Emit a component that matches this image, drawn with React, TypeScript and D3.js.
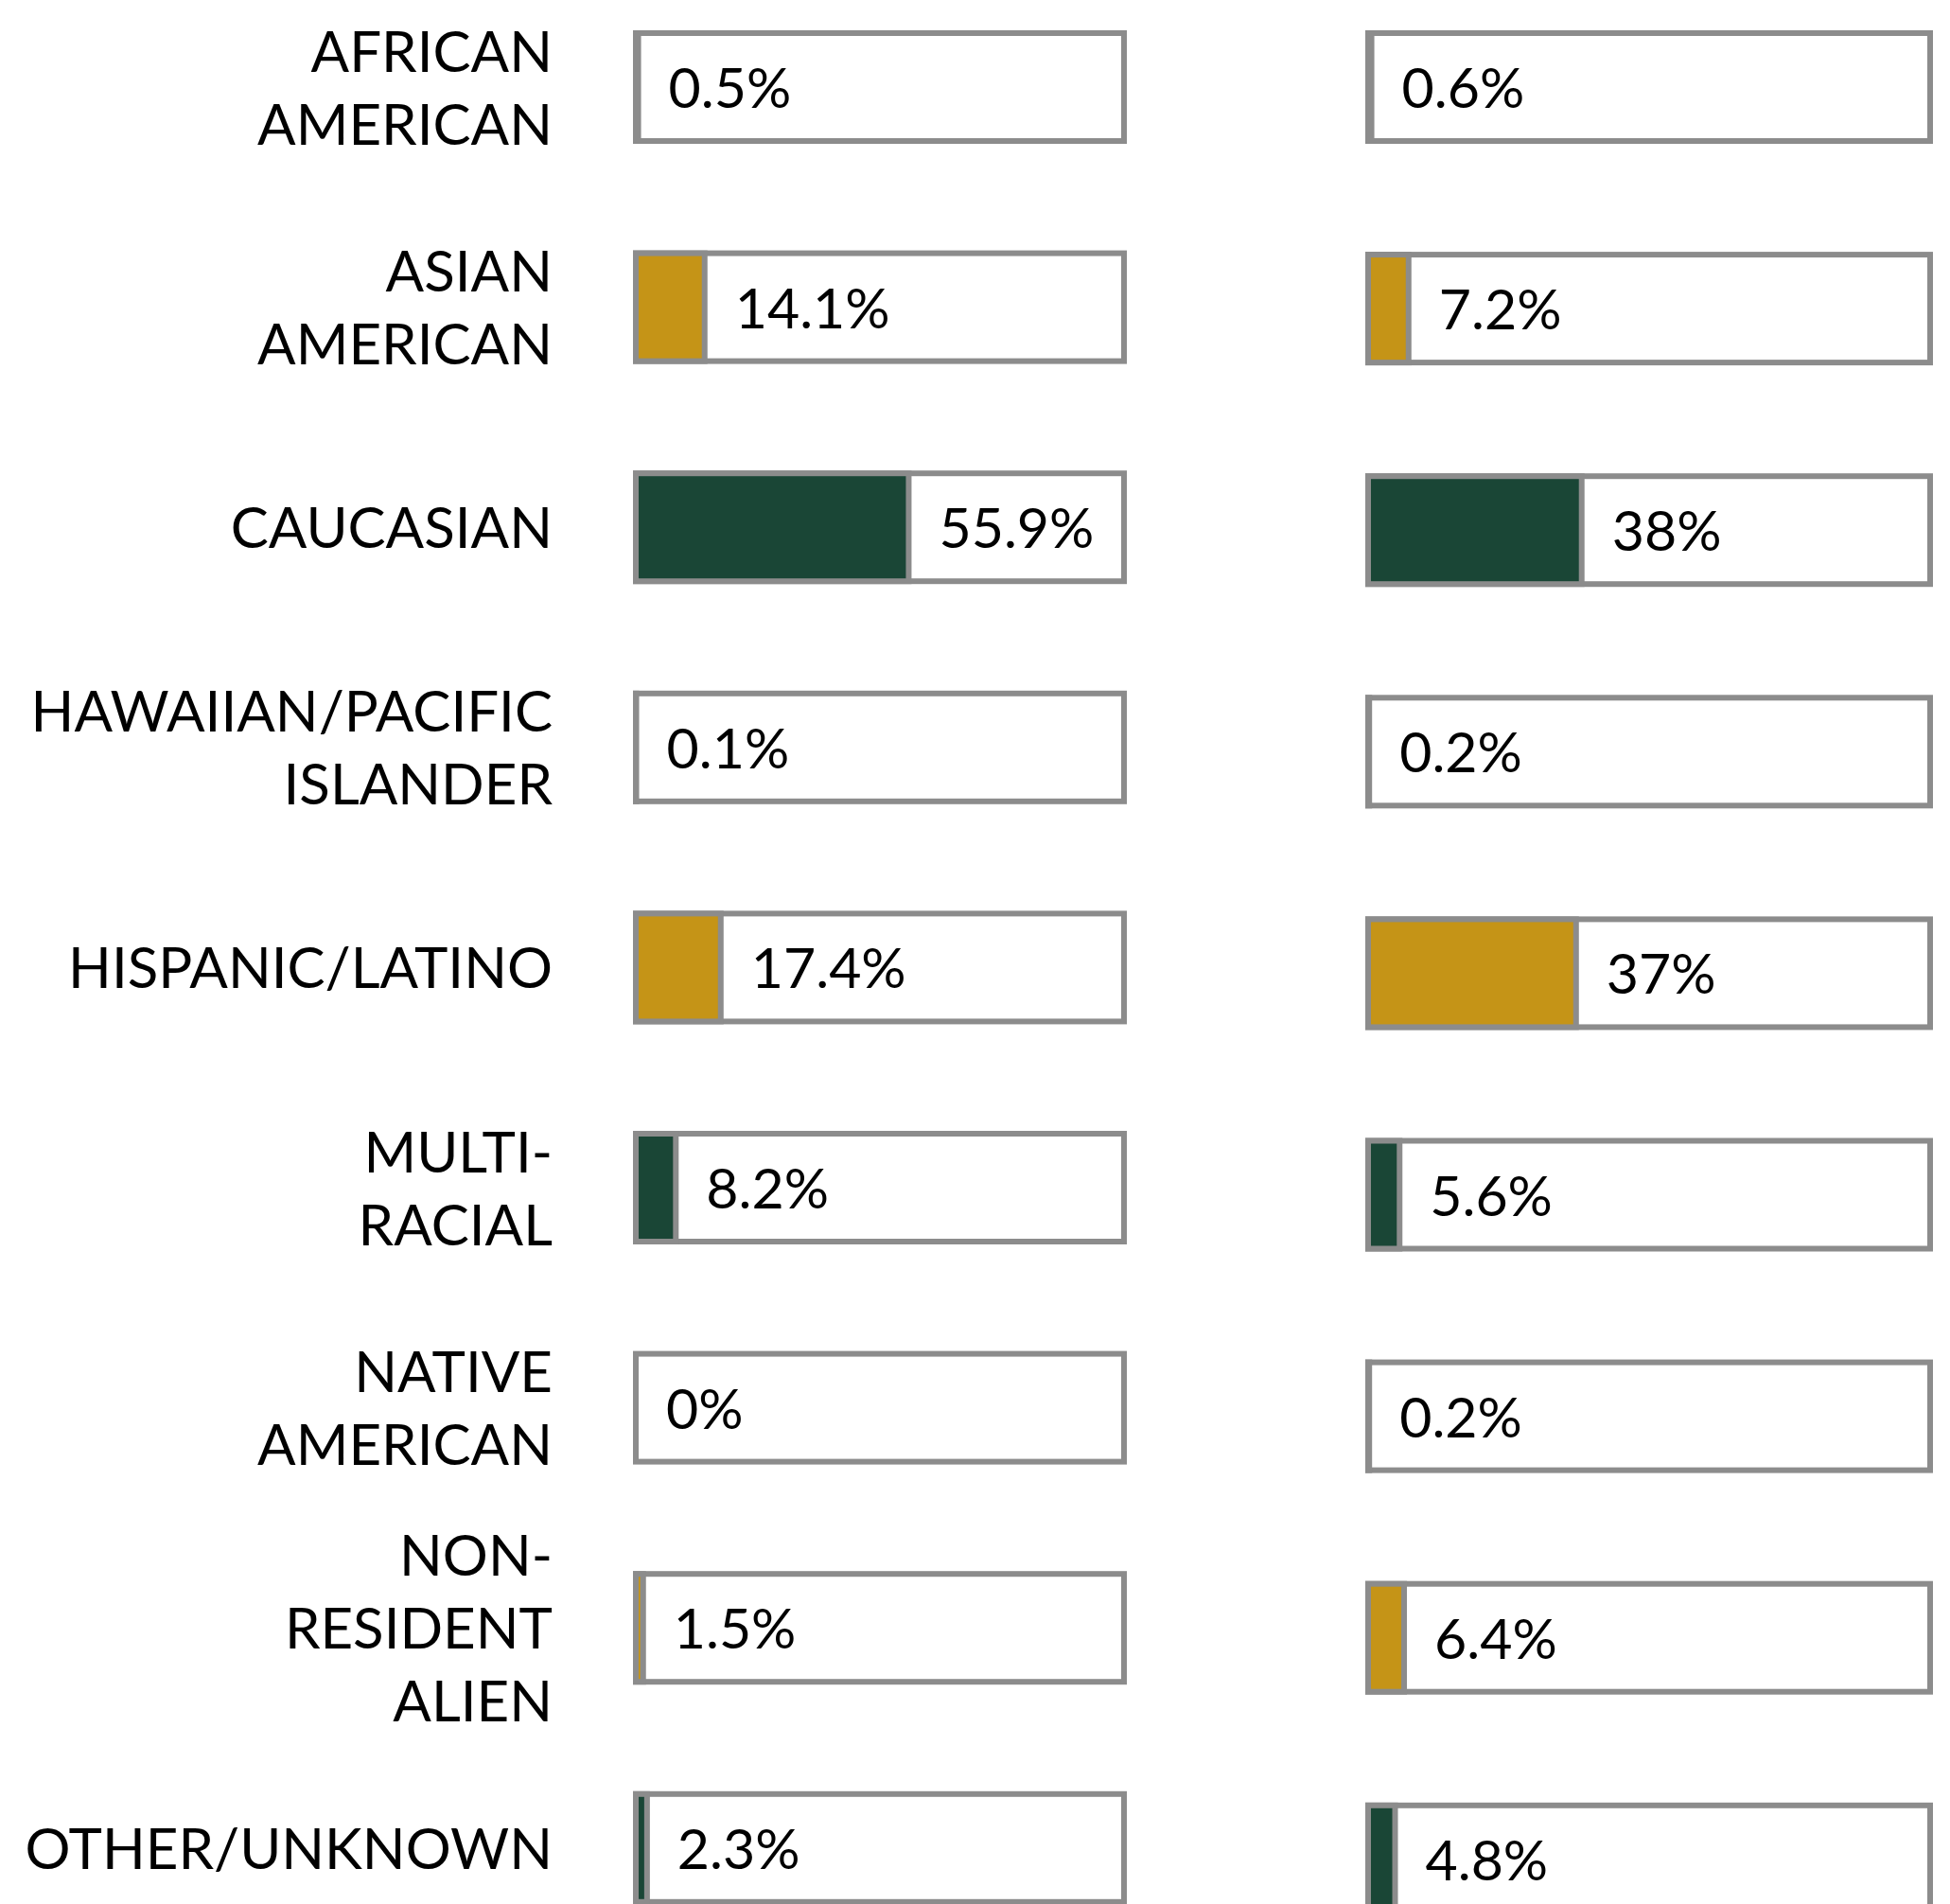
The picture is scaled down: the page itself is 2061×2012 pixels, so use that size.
import React, { useEffect, useRef } from 'react';
import * as d3 from 'd3';

// categories and the two columns of percentages
const categories = [
  'African American',
  'Asian American',
  'Caucasian',
  'Hawaiian/Pacific Islander',
  'Hispanic/Latino',
  'Multi-Racial',
  'Native American',
  'Non-Resident Alien',
  'Other/Unknown',
];

const labelLines = [
  ['AFRICAN', 'AMERICAN'],
  ['ASIAN', 'AMERICAN'],
  ['CAUCASIAN'],
  ['HAWAIIAN/PACIFIC', 'ISLANDER'],
  ['HISPANIC/LATINO'],
  ['MULTI-', 'RACIAL'],
  ['NATIVE', 'AMERICAN'],
  ['NON-', 'RESIDENT', 'ALIEN'],
  ['OTHER/UNKNOWN'],
];

const leftValues = [0.5, 14.1, 55.9, 0.1, 17.4, 8.2, 0, 1.5, 2.3];
const rightValues = [0.6, 7.2, 38, 0.2, 37, 5.6, 0.2, 6.4, 4.8];

const barColors = [
  '#8c8c8c',
  '#c59417',
  '#1a4636',
  '#8c8c8c',
  '#c59417',
  '#1a4636',
  '#8c8c8c',
  '#c59417',
  '#1a4636',
];

export default function App() {
  const ref = useRef<SVGSVGElement>(null);

  useEffect(() => {
    const svg = d3.select(ref.current);
    svg.selectAll('*').remove();

    const boxH = 114;
    const strokeW = 6;
    const gray = '#8c8c8c';
    const labelSize = 60;
    const valueSize = 59;
    const lineH = 77;
    const capShift = 22;

    const columns = [
      { values: leftValues, x0: 672, w: 516, y0: 35, step: 232.6 },
      { values: rightValues, x0: 1446, w: 594, y0: 35, step: 234.1 },
    ];

    const makeY = (col) =>
      d3
        .scaleBand()
        .domain(categories)
        .range([col.y0, col.y0 + (categories.length - 1) * col.step + boxH])
        .paddingInner(1 - boxH / col.step)
        .paddingOuter(0);

    const labelY = makeY(columns[0]);

    // row labels
    const labels = svg
      .selectAll('text.row-label')
      .data(categories)
      .enter()
      .append('text')
      .attr('class', 'row-label')
      .attr('text-anchor', 'end')
      .style('font-family', 'Lato')
      .style('font-size', labelSize + 'px')
      .style('fill', '#000');

    labels.each(function (d, i) {
      const lines = labelLines[i];
      const cy = labelY(d) + boxH / 2;
      d3.select(this)
        .selectAll('tspan')
        .data(lines)
        .enter()
        .append('tspan')
        .attr('x', 584)
        .attr('y', (_, k) => cy + capShift + (k - (lines.length - 1) / 2) * lineH)
        .text((t) => t);
    });

    columns.forEach((col, ci) => {
      const y = makeY(col);
      const x = d3.scaleLinear().domain([0, 100]).range([0, col.w]);
      const g = svg.append('g').attr('class', 'col-' + ci);

      g.selectAll('rect.box')
        .data(categories)
        .enter()
        .append('rect')
        .attr('class', 'box')
        .attr('x', col.x0)
        .attr('y', (d) => y(d))
        .attr('width', col.w)
        .attr('height', boxH)
        .style('fill', '#fff')
        .style('stroke', gray)
        .style('stroke-width', strokeW);

      g.selectAll('rect.bar')
        .data(categories.filter((_, i) => col.values[i] > 0))
        .enter()
        .append('rect')
        .attr('class', 'bar')
        .attr('x', col.x0)
        .attr('y', (d) => y(d))
        .attr('width', (d) => x(col.values[categories.indexOf(d)]))
        .attr('height', boxH)
        .style('fill', (d) => barColors[categories.indexOf(d)])
        .style('stroke', gray)
        .style('stroke-width', strokeW);

      g.selectAll('text.value')
        .data(categories)
        .enter()
        .append('text')
        .attr('class', 'value')
        .attr('x', (d, i) => col.x0 + x(col.values[i]) + 32)
        .attr('y', (d) => y(d) + boxH / 2 + capShift)
        .style('font-family', 'Lato')
        .style('font-size', valueSize + 'px')
        .style('fill', '#000')
        .text((d, i) => col.values[i] + '%');
    });
  }, []);

  return (
    <svg
      ref={ref}
      width={2061}
      height={2012}
      style={{ position: 'absolute', left: 0, top: 0, background: '#fff' }}
    />
  );
}
